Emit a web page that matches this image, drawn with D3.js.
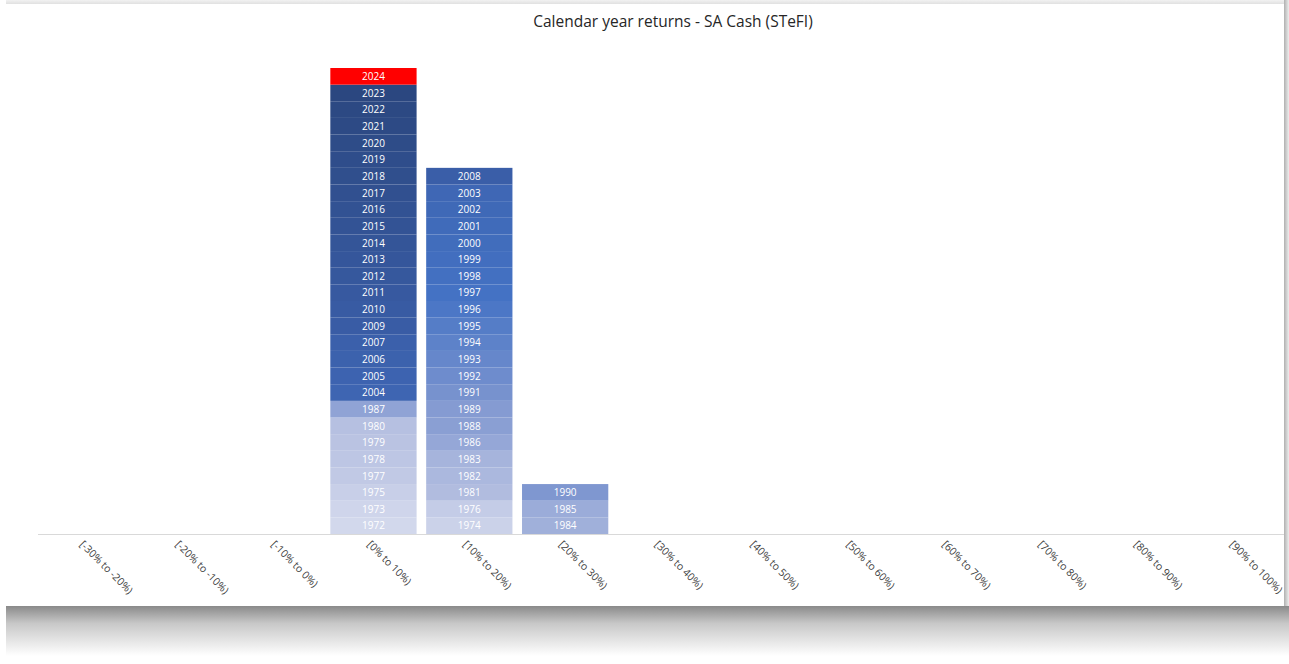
<!DOCTYPE html>
<html>
<head>
<meta charset="utf-8">
<script src="https://cdn.jsdelivr.net/npm/d3@7"></script>
<style>
  body { margin: 0; background: #fff; }
  svg { display: block; }
</style>
</head>
<body>
<svg id="chart" width="1289" height="664"></svg>
<script>
// Return buckets (x-axis categories)
const categories = ['[-30% to -20%)', '[-20% to -10%)', '[-10% to 0%)', '[0% to 10%)', '[10% to 20%)',
    '[20% to 30%)', '[30% to 40%)', '[40% to 50%)', '[50% to 60%)', '[60% to 70%)',
    '[70% to 80%)', '[80% to 90%)', '[90% to 100%)'];

// Years that fall in each bucket, bottom of the stack first
const years0to10 = [1972, 1973, 1975, 1977, 1978, 1979, 1980, 1987, 2004, 2005, 2006, 2007,
    2009, 2010, 2011, 2012, 2013, 2014, 2015, 2016, 2017, 2018, 2019, 2020, 2021, 2022, 2023, 2024];
const years10to20 = [1974, 1976, 1981, 1982, 1983, 1986, 1988, 1989, 1991, 1992, 1993, 1994,
    1995, 1996, 1997, 1998, 1999, 2000, 2001, 2002, 2003, 2008];
const years20to30 = [1984, 1985, 1990];

const currentYear = 2024;
const title = 'Calendar year returns - SA Cash (STeFI)';

const yearsByBucket = {
    '[0% to 10%)': years0to10,
    '[10% to 20%)': years10to20,
    '[20% to 30%)': years20to30
};

const svg = d3.select('#chart');
const W = 1289, H = 664;

// frame + shadow round the chart panel
const defs = svg.append('defs');
const sh = defs.append('linearGradient').attr('id', 'shadowB').attr('x1', 0).attr('y1', 0).attr('x2', 0).attr('y2', 1);
sh.append('stop').attr('offset', 0).attr('stop-color', '#8a8a8a');
sh.append('stop').attr('offset', 0.35).attr('stop-color', '#c8c8c8');
sh.append('stop').attr('offset', 1).attr('stop-color', '#ffffff');
const shT = defs.append('linearGradient').attr('id', 'shadowT').attr('x1', 0).attr('y1', 0).attr('x2', 0).attr('y2', 1);
shT.append('stop').attr('offset', 0).attr('stop-color', '#f2f2f2');
shT.append('stop').attr('offset', 1).attr('stop-color', '#dcdcdc');
const shR = defs.append('linearGradient').attr('id', 'shadowR').attr('x1', 0).attr('y1', 0).attr('x2', 1).attr('y2', 0);
shR.append('stop').attr('offset', 0).attr('stop-color', '#b0b0b0');
shR.append('stop').attr('offset', 1).attr('stop-color', '#eeeeee');

svg.append('rect').attr('x', 6).attr('y', 0).attr('width', W - 6).attr('height', 5).attr('fill', 'url(#shadowT)');
svg.append('rect').attr('x', 1284).attr('y', 0).attr('width', 5).attr('height', 610).attr('fill', 'url(#shadowR)');
svg.append('rect').attr('x', 6).attr('y', 606).attr('width', W - 6).attr('height', 50).attr('fill', 'url(#shadowB)');
svg.append('rect').attr('x', 6).attr('y', 4).attr('width', 1278).attr('height', 602).attr('fill', '#fff');

// title
svg.append('text')
    .attr('x', 673).attr('y', 27)
    .attr('text-anchor', 'middle')
    .attr('fill', '#262626')
    .style('font-family', 'Open Sans, Noto Sans, sans-serif')
    .style('font-size', '15.5px')
    .text(title);

const x = d3.scaleBand()
    .domain(categories)
    .range([38, 1284])
    .paddingInner(0.1)
    .paddingOuter(0.05);

const y = d3.scaleLinear()
    .domain([0, 28])
    .range([534, 68]);

// colour by year, paler for older years
const allYears = years0to10.concat(years10to20, years20to30).filter(d => d !== currentYear);
const color = d3.scaleLinear()
    .domain([d3.min(allYears), 1980, 1990, 1997, 2008, d3.max(allYears)])
    .range(['#d2d8ec', '#b6c0e1', '#7f97d0', '#4472c4', '#3a5ea8', '#2b4780'])
    .interpolate(d3.interpolateRgb);

const cells = [];
categories.forEach(cat => {
    (yearsByBucket[cat] || []).forEach((yr, i) => cells.push({ cat, yr, i }));
});

const g = svg.append('g');
const cell = g.selectAll('g.cell').data(cells).join('g').attr('class', 'cell');

cell.append('rect')
    .attr('x', d => x(d.cat))
    .attr('y', d => y(d.i + 1))
    .attr('width', x.bandwidth())
    .attr('height', d => y(d.i) - y(d.i + 1))
    .attr('fill', d => d.yr === currentYear ? '#ff0000' : color(d.yr));

cell.append('text')
    .attr('x', d => x(d.cat) + x.bandwidth() / 2)
    .attr('y', d => (y(d.i) + y(d.i + 1)) / 2 + 3.8)
    .attr('text-anchor', 'middle')
    .attr('fill', '#fff')
    .style('font-family', 'Open Sans, Noto Sans, sans-serif')
    .style('font-size', '10px')
    .text(d => d.yr);

// axis line
svg.append('line')
    .attr('x1', 38).attr('x2', 1284)
    .attr('y1', 534.5).attr('y2', 534.5)
    .attr('stroke', '#d9d9d9');

// rotated category labels
svg.selectAll('text.xlab').data(categories).join('text')
    .attr('class', 'xlab')
    .attr('transform', d => `translate(${x(d) + x.bandwidth() / 2 - 7},${545}) rotate(45)`)
    .attr('fill', '#404040')
    .style('font-family', 'Open Sans, Noto Sans, sans-serif')
    .style('font-size', '10.5px')
    .text(d => d);
</script>
</body>
</html>
